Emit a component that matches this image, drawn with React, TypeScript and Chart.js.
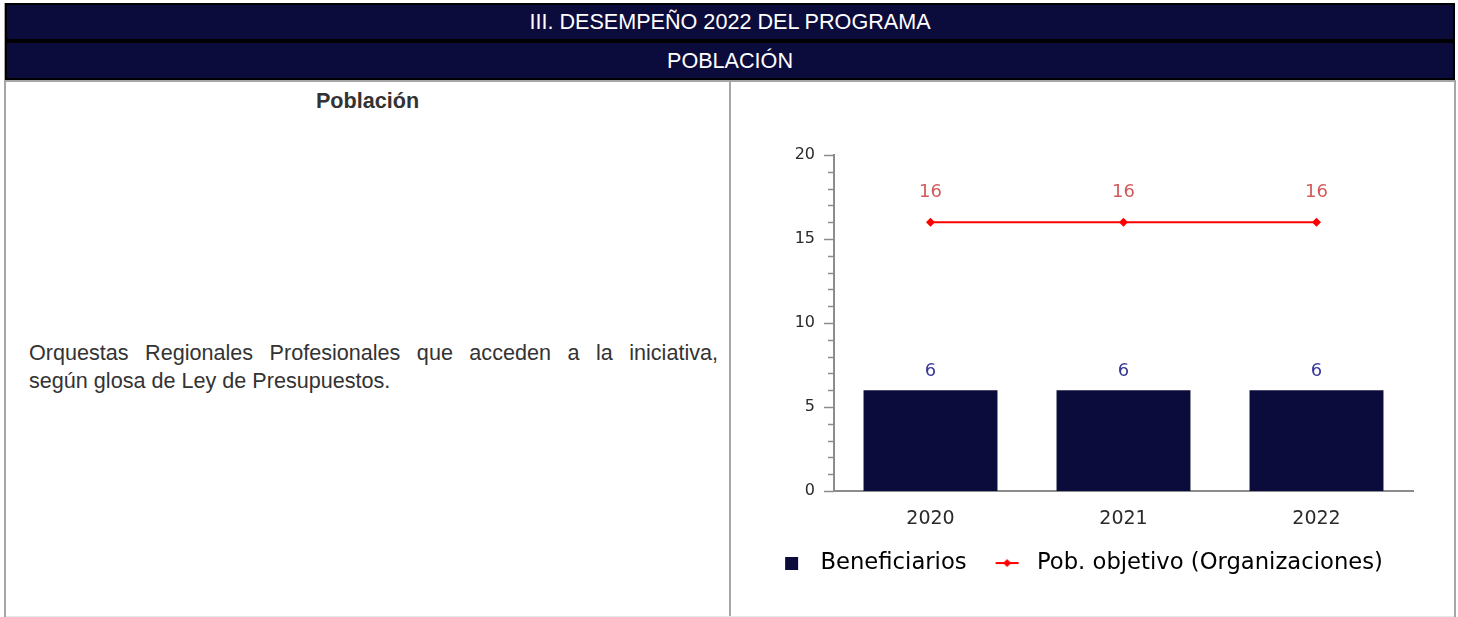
import React, { useEffect, useRef } from "react";
import { Chart, registerables } from "chart.js";

Chart.register(...registerables);

const categories = ["2020", "2021", "2022"];
const beneficiarios = [6, 6, 6];
const poblacionObjetivo = [16, 16, 16];
const seriesNames = ["Beneficiarios", "Pob. objetivo (Organizaciones)"];
const yMin = 0;
const yMax = 20;
const yMajorStep = 5;
const yMinorStep = 1;

const NAVY = "#0c0c3c";
const AXIS = "#8c8c8c";
const FONT = "'DejaVu Sans', sans-serif";

function makeSquareIcon(): HTMLCanvasElement {
  const c = document.createElement("canvas");
  c.width = 26;
  c.height = 13;
  const g = c.getContext("2d")!;
  g.fillStyle = NAVY;
  g.fillRect(12, 0, 13, 13);
  return c;
}

function makeLineIcon(): HTMLCanvasElement {
  const c = document.createElement("canvas");
  c.width = 46;
  c.height = 10;
  const g = c.getContext("2d")!;
  g.strokeStyle = "#ff0000";
  g.lineWidth = 2;
  g.beginPath();
  g.moveTo(16, 5);
  g.lineTo(39, 5);
  g.stroke();
  g.fillStyle = "#ff0000";
  g.beginPath();
  g.moveTo(27.5, 1);
  g.lineTo(31.5, 5);
  g.lineTo(27.5, 9);
  g.lineTo(23.5, 5);
  g.closePath();
  g.fill();
  return c;
}

const minorTicksPlugin = {
  id: "minorTicks",
  afterDraw(chart: any) {
    const y = chart.scales.y;
    const ctx = chart.ctx;
    const left = chart.chartArea.left;
    ctx.save();
    ctx.strokeStyle = AXIS;
    ctx.lineWidth = 1.5;
    for (let v = yMin; v <= yMax; v += yMinorStep) {
      const py = Math.round(y.getPixelForValue(v)) + 0.5;
      const len = v % yMajorStep === 0 ? 10 : 6;
      ctx.beginPath();
      ctx.moveTo(left - len, py);
      ctx.lineTo(left, py);
      ctx.stroke();
    }
    ctx.restore();
  },
};

const dataLabelsPlugin = {
  id: "dataLabels",
  afterDatasetsDraw(chart: any) {
    const ctx = chart.ctx;
    ctx.save();
    ctx.textAlign = "center";
    ctx.textBaseline = "middle";
    ctx.font = `18px ${FONT}`;
    chart.data.datasets.forEach((ds: any, i: number) => {
      const meta = chart.getDatasetMeta(i);
      const isLine = ds.type === "line";
      ctx.fillStyle = isLine ? "#d25a5a" : "#3a3a96";
      meta.data.forEach((el: any, j: number) => {
        const off = isLine ? 30 : 19;
        ctx.fillText(String(ds.data[j]), el.x, el.y - off);
      });
    });
    ctx.restore();
  },
};

function PopulationChart() {
  const ref = useRef<HTMLCanvasElement | null>(null);
  useEffect(() => {
    if (!ref.current) return;
    const sq = makeSquareIcon();
    const ln = makeLineIcon();
    const chart = new Chart(ref.current, {
      type: "bar",
      data: {
        labels: categories,
        datasets: [
          {
            type: "line",
            label: seriesNames[1],
            data: poblacionObjetivo,
            borderColor: "#ff0000",
            backgroundColor: "#ff0000",
            borderWidth: 2,
            pointStyle: "rectRot",
            pointRadius: 4.5,
            pointBackgroundColor: "#ff0000",
            pointBorderWidth: 0,
            order: 0,
          } as any,
          {
            type: "bar",
            label: seriesNames[0],
            data: beneficiarios,
            backgroundColor: NAVY,
            borderWidth: 0,
            barPercentage: 0.694,
            categoryPercentage: 1,
            order: 1,
          } as any,
        ],
      },
      options: {
        responsive: false,
        animation: false,
        events: [],
        layout: { padding: { left: 2, right: 41, top: 73, bottom: 31.6 } },
        plugins: {
          tooltip: { enabled: false },
          legend: {
            position: "bottom",
            align: "center",
            labels: {
              usePointStyle: true,
              pointStyleWidth: 46,
              boxHeight: 13,
              padding: 13,
              color: "#2e2e2e",
              font: { family: FONT, size: 22.7 },
              generateLabels: () => [
                {
                  text: seriesNames[0],
                  fillStyle: NAVY,
                  strokeStyle: NAVY,
                  lineWidth: 0,
                  pointStyle: sq,
                  hidden: false,
                  datasetIndex: 1,
                } as any,
                {
                  text: seriesNames[1],
                  fillStyle: "#ff0000",
                  strokeStyle: "#ff0000",
                  lineWidth: 0,
                  pointStyle: ln,
                  hidden: false,
                  datasetIndex: 0,
                } as any,
              ],
            },
          },
        },
        scales: {
          x: {
            grid: { display: false, drawTicks: false },
            border: { color: AXIS, width: 2 },
            ticks: {
              color: "#2a2a2a",
              font: { family: FONT, size: 19 },
              padding: 16.5,
            },
            afterFit: (s: any) => {
              s.height = 47.7;
            },
          },
          y: {
            min: yMin,
            max: yMax,
            grid: { display: false, drawTicks: false },
            border: { color: AXIS, width: 2 },
            ticks: {
              stepSize: yMajorStep,
              color: "#2a2a2a",
              font: { family: FONT, size: 16 },
              padding: 19,
            },
            afterFit: (s: any) => {
              s.width = 101;
            },
          },
        },
      },
      plugins: [minorTicksPlugin, dataLabelsPlugin],
    });
    return () => chart.destroy();
  }, []);
  return <canvas ref={ref} width={723} height={534} style={{ display: "block" }} />;
}

export default function App() {
  const txt: React.CSSProperties = {
    fontFamily: "'Liberation Sans', Arial, sans-serif",
    fontSize: "21.6px",
  };
  const headerRow = (top: number, height: number, label: string) => (
    <div
      style={{
        position: "absolute",
        left: 5,
        top,
        width: 1450,
        height,
        boxSizing: "border-box",
        border: "2px solid #000",
        background: NAVY,
        color: "#fff",
        display: "flex",
        alignItems: "center",
        justifyContent: "center",
        ...txt,
      }}
    >
      {label}
    </div>
  );
  return (
    <div
      style={{
        position: "fixed",
        left: 0,
        top: 0,
        width: 1458,
        height: 617,
        overflow: "hidden",
        background: "#fff",
      }}
    >
      <div style={{ position: "absolute", left: 4, top: 3, width: 1, height: 78, background: "#a6a6a6" }} />
      {headerRow(3, 38, "III. DESEMPEÑO 2022 DEL PROGRAMA")}
      {headerRow(41, 39, "POBLACIÓN")}
      <div
        style={{
          position: "absolute",
          left: 4,
          top: 80,
          width: 1452,
          height: 620,
          boxSizing: "border-box",
          borderTop: "2px solid #a6a6a6",
          borderLeft: "2px solid #a6a6a6",
          borderRight: "2px solid #a6a6a6",
        }}
      />
      <div style={{ position: "absolute", left: 729, top: 80, width: 2, height: 540, background: "#a6a6a6" }} />
      <div style={{ position: "absolute", left: 6, top: 616, width: 1448, height: 1, background: "#e8e8e8" }} />
      <div
        style={{
          position: "absolute",
          left: 6,
          top: 87,
          width: 723,
          textAlign: "center",
          fontWeight: "bold",
          color: "#333",
          lineHeight: "28px",
          ...txt,
        }}
      >
        Población
      </div>
      <div
        style={{
          position: "absolute",
          left: 29,
          top: 339,
          width: 689,
          color: "#333",
          lineHeight: "28px",
          textAlign: "justify",
          textAlignLast: "justify",
          whiteSpace: "nowrap",
          ...txt,
        }}
      >
        Orquestas Regionales Profesionales que acceden a la iniciativa,
      </div>
      <div
        style={{
          position: "absolute",
          left: 29,
          top: 367,
          width: 689,
          color: "#333",
          lineHeight: "28px",
          whiteSpace: "nowrap",
          ...txt,
        }}
      >
        según glosa de Ley de Presupuestos.
      </div>
      <div style={{ position: "absolute", left: 731, top: 82 }}>
        <PopulationChart />
      </div>
    </div>
  );
}
